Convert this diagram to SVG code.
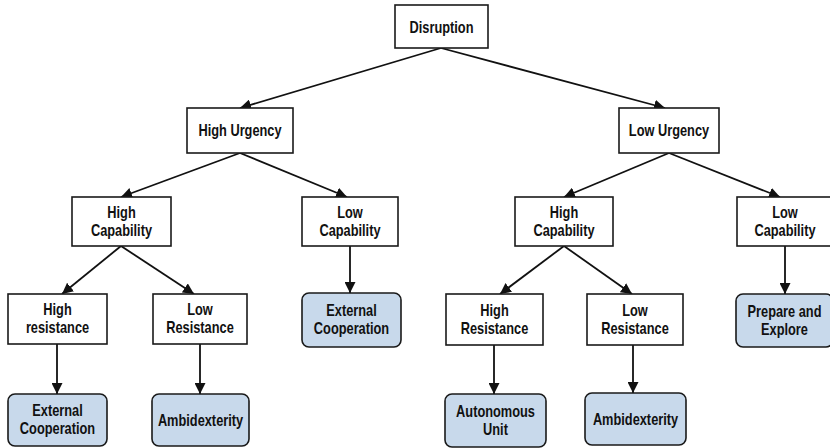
<svg xmlns="http://www.w3.org/2000/svg" width="830" height="448" viewBox="0 0 830 448">
<style>
.box{fill:#ffffff;stroke:#1a1a1a;stroke-width:1.6}
.leaf{fill:#c8d9eb;stroke:#1a1a1a;stroke-width:1.6}
text{font-family:"Liberation Sans",Arial,sans-serif;font-size:16px;font-weight:bold;fill:#111;text-anchor:middle}
.edge{stroke:#111;stroke-width:1.8;fill:none;marker-end:url(#arr)}
</style>
<defs>
<marker id="arr" markerUnits="userSpaceOnUse" markerWidth="12" markerHeight="11" refX="11" refY="5.5" orient="auto">
<path d="M0,0 L11,5.5 L0,11 Z" fill="#111"/>
</marker>
</defs>
<rect width="830" height="448" fill="#ffffff"/>
<g id="connectors">
<line class="edge" x1="441" y1="48" x2="240" y2="108"/>
<line class="edge" x1="441" y1="48" x2="665" y2="108"/>
<line class="edge" x1="240" y1="153" x2="121" y2="197"/>
<line class="edge" x1="240" y1="153" x2="347" y2="197"/>
<line class="edge" x1="669" y1="153" x2="564" y2="197"/>
<line class="edge" x1="669" y1="153" x2="780" y2="197"/>
<line class="edge" x1="121" y1="246" x2="62" y2="294"/>
<line class="edge" x1="121" y1="246" x2="194" y2="294"/>
<line class="edge" x1="564" y1="246" x2="500" y2="294"/>
<line class="edge" x1="564" y1="246" x2="632" y2="294"/>
<line class="edge" x1="57" y1="344" x2="57" y2="394"/>
<line class="edge" x1="200" y1="344" x2="200" y2="394"/>
<line class="edge" x1="350" y1="246" x2="350" y2="293"/>
<line class="edge" x1="494" y1="345" x2="494" y2="394"/>
<line class="edge" x1="633" y1="345" x2="633" y2="393"/>
<line class="edge" x1="785" y1="246" x2="785" y2="294"/>
</g>
<g id="disruption"><rect class="box" x="395" y="5" width="93" height="43"/><text transform="translate(441.5,0) scale(0.8,1)" y="33">Disruption</text></g>
<g id="high-urgency"><rect class="box" x="187" y="108" width="106" height="45"/><text transform="translate(240,0) scale(0.8,1)" y="136.5">High Urgency</text></g>
<g id="low-urgency"><rect class="box" x="619" y="108" width="100" height="45"/><text transform="translate(669,0) scale(0.8,1)" y="136.5">Low Urgency</text></g>
<g id="high-capability-1"><rect class="box" x="72" y="197" width="99" height="49"/><g transform="translate(121.5,0) scale(0.8,1)"><text y="218">High</text><text y="236">Capability</text></g></g>
<g id="low-capability-1"><rect class="box" x="302" y="197" width="96" height="49"/><g transform="translate(350,0) scale(0.8,1)"><text y="218">Low</text><text y="236">Capability</text></g></g>
<g id="high-capability-2"><rect class="box" x="515" y="197" width="98" height="49"/><g transform="translate(564,0) scale(0.8,1)"><text y="218">High</text><text y="236">Capability</text></g></g>
<g id="low-capability-2"><rect class="box" x="737" y="197" width="96" height="49"/><g transform="translate(785,0) scale(0.8,1)"><text y="218">Low</text><text y="236">Capability</text></g></g>
<g id="high-resistance-1"><rect class="box" x="8" y="294" width="99" height="50"/><g transform="translate(57.5,0) scale(0.8,1)"><text y="315.5">High</text><text y="333.5">resistance</text></g></g>
<g id="low-resistance-1"><rect class="box" x="153" y="294" width="94" height="50"/><g transform="translate(200,0) scale(0.8,1)"><text y="315.5">Low</text><text y="333.5">Resistance</text></g></g>
<g id="high-resistance-2"><rect class="box" x="446" y="294" width="97" height="51"/><g transform="translate(494.5,0) scale(0.8,1)"><text y="316">High</text><text y="334">Resistance</text></g></g>
<g id="low-resistance-2"><rect class="box" x="587" y="294" width="96" height="51"/><g transform="translate(635,0) scale(0.8,1)"><text y="316">Low</text><text y="334">Resistance</text></g></g>
<g id="external-cooperation-1"><rect class="leaf" x="8" y="394" width="99" height="52" rx="7"/><g transform="translate(57.5,0) scale(0.8,1)"><text y="416.5">External</text><text y="434.5">Cooperation</text></g></g>
<g id="ambidexterity-1"><rect class="leaf" x="152" y="394" width="97" height="52" rx="7"/><text transform="translate(200.5,0) scale(0.8,1)" y="426">Ambidexterity</text></g>
<g id="external-cooperation-2"><rect class="leaf" x="302" y="293" width="99" height="54" rx="7"/><g transform="translate(351.5,0) scale(0.8,1)"><text y="316.5">External</text><text y="334.5">Cooperation</text></g></g>
<g id="autonomous-unit"><rect class="leaf" x="445" y="394" width="101" height="53" rx="7"/><g transform="translate(495.5,0) scale(0.8,1)"><text y="417">Autonomous</text><text y="435">Unit</text></g></g>
<g id="ambidexterity-2"><rect class="leaf" x="585" y="393" width="101" height="52" rx="7"/><text transform="translate(635.5,0) scale(0.8,1)" y="425">Ambidexterity</text></g>
<g id="prepare-and-explore"><rect class="leaf" x="736" y="294" width="97" height="53" rx="7"/><g transform="translate(784.5,0) scale(0.8,1)"><text y="317">Prepare and</text><text y="335">Explore</text></g></g>
</svg>
